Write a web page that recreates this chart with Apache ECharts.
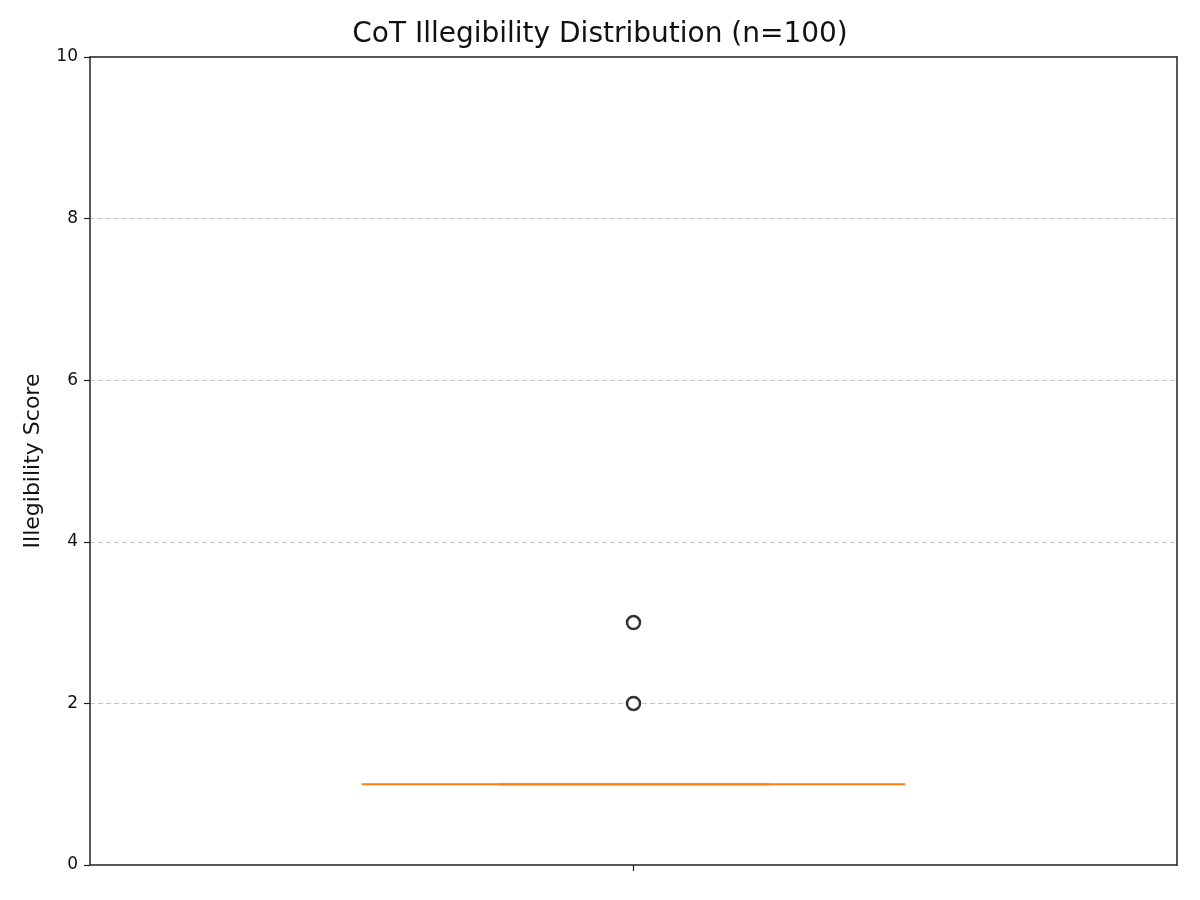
<!DOCTYPE html>
<html>
<head>
<meta charset="utf-8">
<title>CoT Illegibility Distribution</title>
<script src="https://cdn.jsdelivr.net/npm/echarts@6/dist/echarts.min.js"></script>
<style>
  html, body { margin: 0; padding: 0; background: #fff; }
  #main { width: 1200px; height: 900px; }
</style>
</head>
<body>
<div id="main"></div>
<script>
// data
var categories = ['CoT'];
// min, Q1, median, Q3, max
var boxValues = [[1, 1, 1, 1, 1]];
var medianValues = [1];
var outlierValues = [2, 3];
var yTicks = [0, 2, 4, 6, 8, 10];

var chart = echarts.init(document.getElementById('main'));

var medianData = medianValues.map(function (v, i) { return [i, v]; });
var outlierData = outlierValues.map(function (v) { return [0, v]; });

var frameLine = { show: true, onZero: false, lineStyle: { color: '#222', width: 1.5 } };

var option = {
    backgroundColor: '#ffffff',
    animation: false,
    textStyle: { fontFamily: 'DejaVu Sans' },
    title: {
        text: 'CoT Illegibility Distribution (n=100)',
        left: 'center',
        top: 16,
        textStyle: { fontSize: 28, fontWeight: 'normal', color: '#111', fontFamily: 'DejaVu Sans' }
    },
    grid: {
        left: 90, right: 23, top: 57, bottom: 35
    },
    xAxis: [
        {
            type: 'category',
            data: categories,
            boundaryGap: true,
            axisLine: frameLine,
            axisTick: { show: true, alignWithLabel: true, length: 6, lineStyle: { color: '#222', width: 1.2 } },
            axisLabel: { show: false },
            splitLine: { show: false }
        },
        {
            type: 'category',
            data: categories,
            position: 'top',
            axisLine: frameLine,
            axisTick: { show: false },
            axisLabel: { show: false },
            splitLine: { show: false }
        }
    ],
    yAxis: [
        {
            type: 'value',
            min: yTicks[0],
            max: yTicks[yTicks.length - 1],
            interval: 2,
            name: 'Illegibility Score',
            nameLocation: 'middle',
            nameGap: 46,
            nameTextStyle: { fontSize: 22, color: '#111' },
            axisLine: frameLine,
            axisTick: { show: true, length: 6, lineStyle: { color: '#222', width: 1.2 } },
            axisLabel: { fontSize: 17, color: '#111', margin: 12 },
            splitLine: {
                show: true,
                showMinLine: false,
                showMaxLine: false,
                lineStyle: { color: '#c8c8c8', type: [5, 3], width: 1 }
            }
        },
        {
            type: 'value',
            min: yTicks[0],
            max: yTicks[yTicks.length - 1],
            interval: 2,
            position: 'right',
            axisLine: frameLine,
            axisTick: { show: false },
            axisLabel: { show: false },
            splitLine: { show: false }
        }
    ],
    series: [
        {
            type: 'boxplot',
            data: boxValues,
            boxWidth: ['25%', '25%'],
            itemStyle: { color: '#ffffff', borderColor: '#d0d0d0', borderWidth: 3 },
            z: 2
        },
        {
            type: 'custom',
            data: medianData,
            z: 3,
            renderItem: function (params, api) {
                var p = api.coord([api.value(0), api.value(1)]);
                var w = api.size([1, 0])[0] * 0.5;
                return {
                    type: 'line',
                    shape: { x1: p[0] - w / 2, y1: p[1], x2: p[0] + w / 2, y2: p[1] },
                    style: { stroke: '#ff7f0e', lineWidth: 2 }
                };
            }
        },
        {
            type: 'scatter',
            data: outlierData,
            symbol: 'circle',
            symbolSize: 13,
            itemStyle: { color: '#ffffff', borderColor: '#000000', borderWidth: 2.5 },
            z: 4
        }
    ]
};

chart.setOption(option);
</script>
</body>
</html>
